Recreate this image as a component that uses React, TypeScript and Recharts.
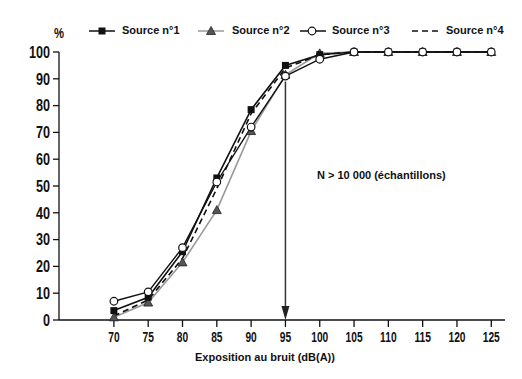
import { LineChart, Line, XAxis, YAxis, ReferenceLine } from 'recharts';

const levels = [70, 75, 80, 85, 90, 95, 100, 105, 110, 115, 120, 125];
const source1 = [3.5, 8.5, 25.5, 53, 78.5, 95, 99, 100, 100, 100, 100, 100];
const source2 = [1, 6.5, 21.5, 41, 70.5, 91.5, 99.5, 100, 100, 100, 100, 100];
const source3 = [7, 10.5, 27, 51.5, 72, 91, 97.3, 100, 100, 100, 100, 100];
const source4 = [1.5, 7.5, 23, 49, 77, 94, 99, 100, 100, 100, 100, 100];
const yTicks = [0, 10, 20, 30, 40, 50, 60, 70, 80, 90, 100];

const data = levels.map((db, i) => ({
  db,
  s1: source1[i],
  s2: source2[i],
  s3: source3[i],
  s4: source4[i],
}));

const SANS = '"Liberation Sans", Arial, sans-serif';

const SquareDot = (p: any) => (
  <rect key={`sq-${p.index}`} x={p.cx - 3.5} y={p.cy - 3.5} width={7} height={7} fill="#111" />
);
const TriangleDot = (p: any) => (
  <polygon
    key={`tr-${p.index}`}
    points={`${p.cx},${p.cy - 4.5} ${p.cx - 4.5},${p.cy + 3.5} ${p.cx + 4.5},${p.cy + 3.5}`}
    fill="#555"
    stroke="#222"
    strokeWidth={0.8}
  />
);
const CircleDot = (p: any) => (
  <circle key={`ci-${p.index}`} cx={p.cx} cy={p.cy} r={3.8} fill="#fff" stroke="#111" strokeWidth={1.2} />
);

// condensed look: squeeze Liberation Sans Bold horizontally
const XTick = (p: any) => (
  <g transform={`translate(${p.x},${p.y})`}>
    <text transform="scale(0.73,1)" textAnchor="middle" dy="0.71em" fontFamily={SANS} fontWeight="bold" fontSize={14} fill="#111">
      {p.payload.value}
    </text>
  </g>
);
const YTick = (p: any) => (
  <g transform={`translate(${p.x},${p.y})`}>
    <text transform="scale(0.79,1)" dy="0.36em" textAnchor="end" fontFamily={SANS} fontWeight="bold" fontSize={16} fill="#111">
      {p.payload.value}
    </text>
  </g>
);

const legendItems = [
  { name: 'Source n°1', left: 89, textLeft: 122, color: '#111', dash: undefined, marker: 'square' },
  { name: 'Source n°2', left: 198, textLeft: 232, color: '#999', dash: undefined, marker: 'triangle' },
  { name: 'Source n°3', left: 300, textLeft: 332, color: '#111', dash: undefined, marker: 'circle' },
  { name: 'Source n°4', left: 412, textLeft: 446, color: '#111', dash: '6 4', marker: 'none' },
];

const ChartLegend = () => (
  <div style={{ position: 'absolute', left: 0, top: 22, width: 522, height: 20 }}>
    {legendItems.map((it) => (
      <div key={it.name}>
        <svg style={{ position: 'absolute', left: it.left, top: 3 }} width={27} height={12}>
          <line x1={0} y1={6} x2={26} y2={6} stroke={it.color} strokeWidth={1.5} strokeDasharray={it.dash} />
          {it.marker === 'square' && <rect x={9.5} y={2.5} width={7} height={7} fill="#111" />}
          {it.marker === 'triangle' && <polygon points="13,1.5 8.5,9.5 17.5,9.5" fill="#555" stroke="#222" strokeWidth={0.8} />}
          {it.marker === 'circle' && <circle cx={12} cy={6} r={3.8} fill="#fff" stroke="#111" strokeWidth={1.2} />}
        </svg>
        <span
          style={{
            position: 'absolute',
            left: it.textLeft,
            top: 2,
            fontFamily: SANS,
            fontWeight: 'bold',
            fontSize: 11,
            color: '#111',
            whiteSpace: 'nowrap',
          }}
        >
          {it.name}
        </span>
      </div>
    ))}
  </div>
);

const ArrowShape = (p: any) => {
  const { x1, y1, x2, y2 } = p;
  return (
    <g>
      <line x1={x1} y1={y1} x2={x2} y2={y2 - 10} stroke="#333" strokeWidth={1.5} />
      <polygon points={`${x2},${y2} ${x2 - 4},${y2 - 14} ${x2 + 4},${y2 - 14}`} fill="#222" />
    </g>
  );
};

export default function App() {
  return (
    <div style={{ position: 'absolute', left: 0, top: 0, width: 522, height: 379, background: '#fff' }}>
      <LineChart width={522} height={379} data={data} margin={{ top: 52, right: 17, bottom: 0, left: 0 }}>
        <XAxis
          dataKey="db"
          type="number"
          domain={[62, 127]}
          ticks={levels}
          interval={0}
          tick={<XTick />}
          height={59}
          tickSize={7}
          tickMargin={5}
          stroke="#111"
          strokeWidth={1.3}
          allowDataOverflow
        />
        <YAxis
          type="number"
          domain={[0, 100]}
          ticks={yTicks}
          interval={0}
          tick={<YTick />}
          width={59}
          tickSize={6}
          tickMargin={3}
          stroke="#111"
          strokeWidth={1.3}
        />
        <ReferenceLine
          segment={[
            { x: 95, y: 89 },
            { x: 95, y: 0 },
          ]}
          shape={<ArrowShape />}
        />
        <Line dataKey="s2" name="Source n°2" stroke="#999" strokeWidth={1.6} dot={TriangleDot} isAnimationActive={false} />
        <Line dataKey="s4" name="Source n°4" stroke="#111" strokeWidth={1.6} strokeDasharray="6 4" dot={false} isAnimationActive={false} />
        <Line dataKey="s1" name="Source n°1" stroke="#111" strokeWidth={1.6} dot={SquareDot} isAnimationActive={false} />
        <Line dataKey="s3" name="Source n°3" stroke="#111" strokeWidth={1.4} dot={CircleDot} isAnimationActive={false} />
      </LineChart>
      <ChartLegend />
      <div style={{ position: 'absolute', left: 54, top: 24, fontFamily: SANS, fontWeight: 'bold', fontSize: 15, color: '#111', transform: 'scaleX(0.75)', transformOrigin: 'left' }}>%</div>
      <div style={{ position: 'absolute', left: 317, top: 169, fontFamily: SANS, fontWeight: 'bold', fontSize: 11, color: '#111', whiteSpace: 'nowrap' }}>
        N &gt; 10 000 (échantillons)
      </div>
      <div style={{ position: 'absolute', left: 195, top: 351, fontFamily: SANS, fontWeight: 'bold', fontSize: 11, color: '#111', whiteSpace: 'nowrap' }}>
        Exposition au bruit (dB(A))
      </div>
    </div>
  );
}
